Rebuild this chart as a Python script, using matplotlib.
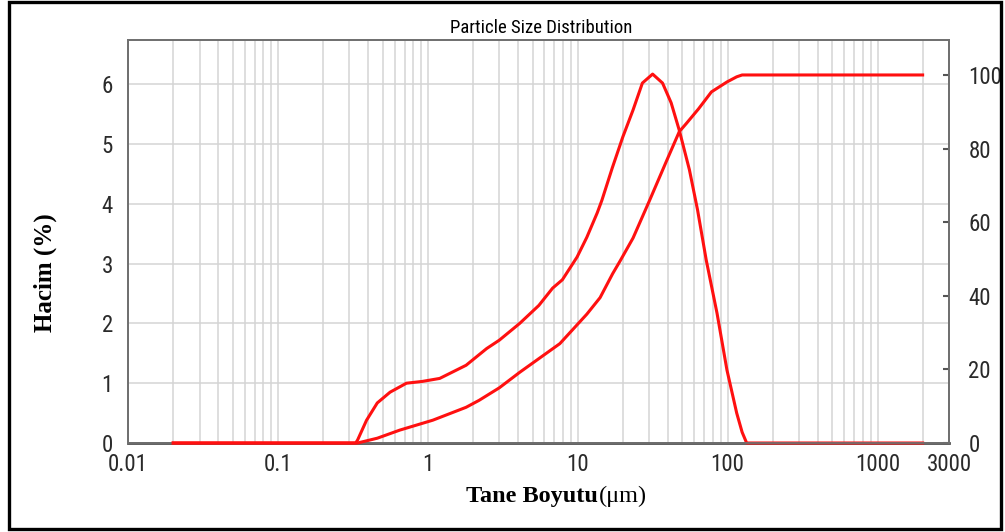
# particle size distribution: volume % and cumulative %

import matplotlib.pyplot as plt
from matplotlib import font_manager
from matplotlib.patches import Rectangle
from matplotlib.ticker import FixedLocator, FixedFormatter, LogLocator, NullFormatter

# frequency curve (left axis, Hacim %)
dist_size = [0.02, 0.33, 0.34, 0.39, 0.46, 0.56, 0.72, 0.92, 1.2, 1.47, 1.8, 2.47, 3.0,
             4.1, 5.5, 6.8, 7.9, 9.9, 11.5, 13.5, 14.5, 17, 20, 23.4, 27, 31.6, 36.8,
             42, 47.6, 55.6, 63, 72, 85, 99, 115, 125, 134, 2000]
dist_vol = [0, 0, 0.05, 0.38, 0.67, 0.85, 1.0, 1.03, 1.08, 1.19, 1.30, 1.58, 1.72,
            2.0, 2.3, 2.59, 2.73, 3.11, 3.44, 3.85, 4.06, 4.6, 5.12, 5.57, 6.02, 6.17, 6.02,
            5.69, 5.23, 4.57, 3.90, 3.06, 2.17, 1.22, 0.50, 0.18, 0.0, 0]

# cumulative curve (right axis, %)
cum_size = [0.02, 0.34, 0.46, 0.65, 1.08, 1.8, 2.2, 3.0, 4.1, 7.6, 11.5, 14.1, 17.1,
            19.2, 23.4, 30, 39, 47.6, 53, 64, 78, 99, 115, 125, 2000]
cum_pct = [0, 0, 1.3, 3.5, 6.2, 9.7, 11.6, 15, 19.2, 27, 35, 39.5, 46,
           49.5, 55.7, 65.7, 76.5, 84.6, 86.8, 90.8, 95.4, 98.1, 99.5, 100, 100]

x_ticks = [0.01, 0.1, 1, 10, 100, 1000, 3000]
x_labels = ["0.01", "0.1", "1", "10", "100", "1000", "3000"]
left_ticks = [0, 1, 2, 3, 4, 5, 6]
right_ticks = [0, 20, 40, 60, 80, 100]

# narrow sans if there is one, else plain DejaVu a bit smaller
have = {f.name for f in font_manager.fontManager.ttflist}
narrow = 'DejaVu Sans'
tick_size, title_size = 13, 11.5
for name in ['Liberation Sans Narrow', 'DejaVu Sans Condensed', 'Roboto Condensed']:
    if name in have:
        narrow = name
        tick_size, title_size = 16.5, 13.5
        break
serif = ['Liberation Serif', 'DejaVu Serif']

fig = plt.figure(figsize=(10.05, 5.32), dpi=100)
ax = fig.add_axes([0.1274, 0.1673, 0.8169, 0.7575])
ax2 = ax.twinx()

ax.set_xscale('log')
ax.set_xlim(0.01, 3000)
ax.set_ylim(0, 6.74)
ax2.set_ylim(0, 109.5)

# grid
ax.xaxis.set_major_locator(FixedLocator(x_ticks))
ax.xaxis.set_major_formatter(FixedFormatter(x_labels))
ax.xaxis.set_minor_locator(LogLocator(base=10, subs=range(2, 10), numticks=20))
ax.xaxis.set_minor_formatter(NullFormatter())
ax.set_yticks(left_ticks)
ax.grid(True, which='both', axis='x', color='#d4d4d4', lw=1.1)
ax.grid(True, which='major', axis='y', color='#d4d4d4', lw=1.1)
ax.set_axisbelow(True)

ax.plot(dist_size, dist_vol, color='#ff1010', lw=2.2, zorder=3, clip_on=False)
ax2.plot(cum_size, cum_pct, color='#ff1010', lw=2.2, zorder=3, clip_on=False)

ax2.set_yticks(right_ticks)

ax.tick_params(axis='x', which='both', length=0, pad=7.5)
ax.tick_params(axis='y', length=0, pad=11)
ax2.tick_params(axis='y', direction='in', length=4, width=1.5, color='#555555', pad=14)
for a in (ax, ax2):
    for lab in a.get_xticklabels() + a.get_yticklabels():
        lab.set_family(narrow)
        lab.set_fontsize(tick_size)
        lab.set_color('#2a2a2a')
    for s in a.spines.values():
        s.set_color('#707070')
        s.set_linewidth(1.3)
ax.spines['bottom'].set_color('#505050')
ax.spines['bottom'].set_linewidth(2)

fig.text(0.538, 0.947, "Particle Size Distribution", family=narrow, fontsize=title_size,
         ha='center', va='center')
fig.text(0.045, 0.487, "Hacim (%)", family=serif, fontsize=18, fontweight='bold',
         rotation=90, ha='center', va='center')
fig.text(0.595, 0.066, "Tane Boyutu", family=serif, fontsize=17.5, fontweight='bold',
         ha='right', va='center')
fig.text(0.596, 0.066, "(\u03bcm)", family=serif, fontsize=17.5,
         ha='left', va='center')

# outer frame
fig.patches.append(Rectangle((0.0085, 0.006), 0.988, 0.991, transform=fig.transFigure,
                             fill=False, edgecolor='black', lw=2.4))

fig.savefig("out.png", dpi=100)
